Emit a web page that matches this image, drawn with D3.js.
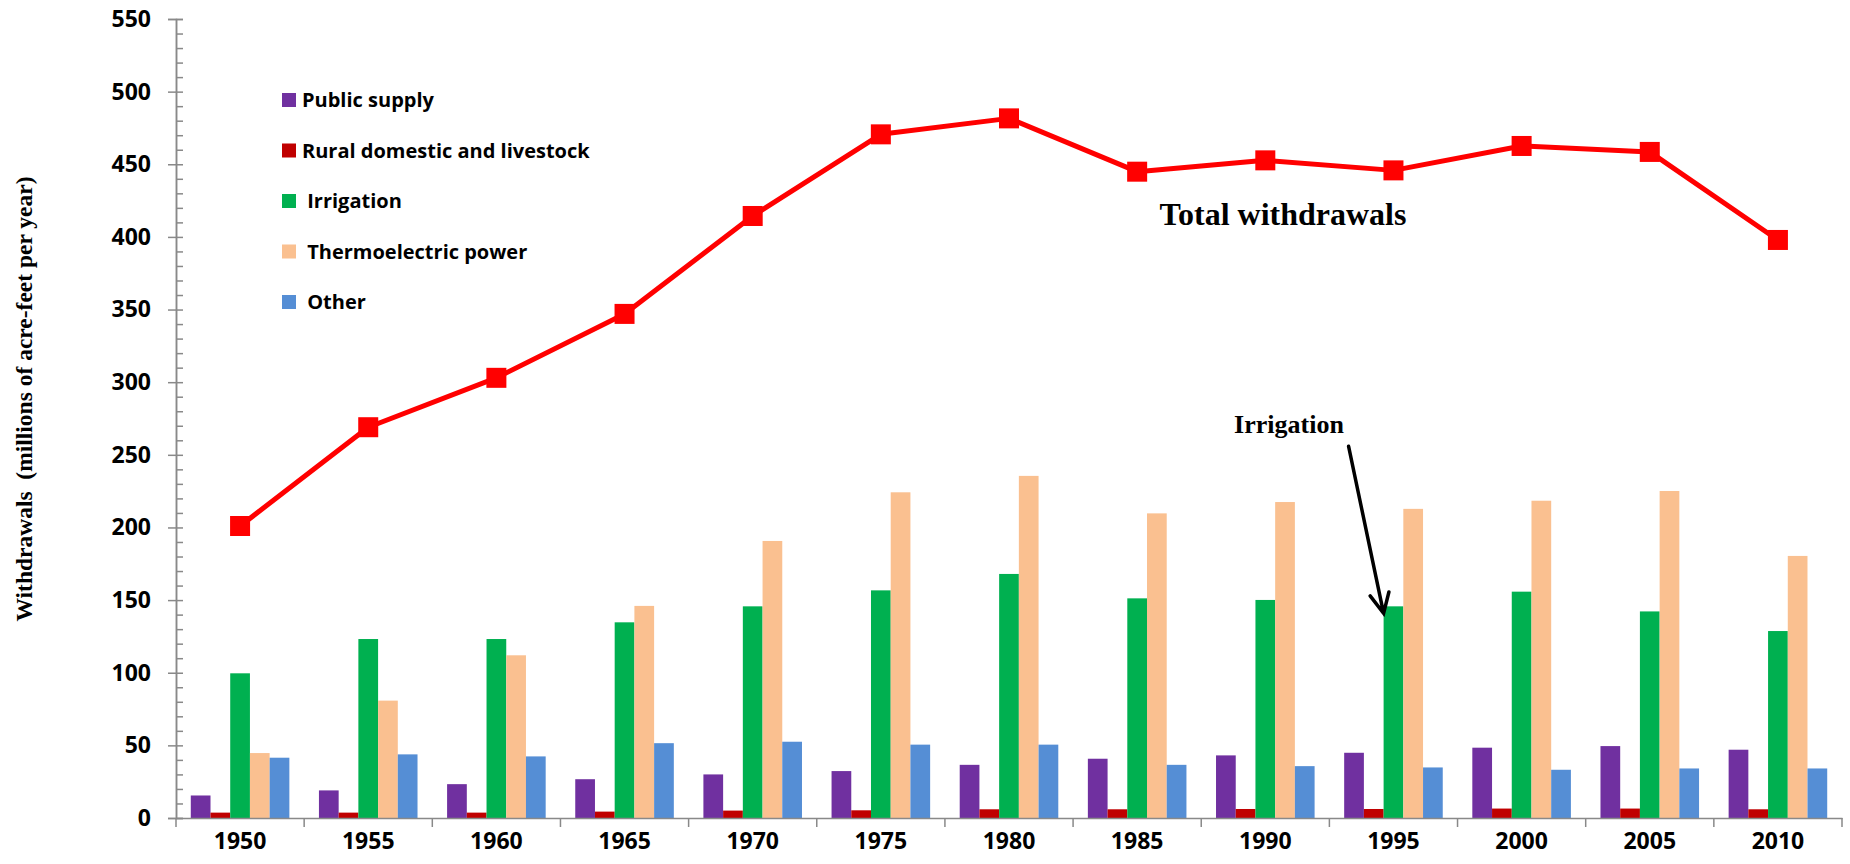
<!DOCTYPE html>
<html>
<head>
<meta charset="utf-8">
<script src="https://cdn.jsdelivr.net/npm/d3@7"></script>
<style>
  html, body { margin: 0; padding: 0; background: #fff; }
  svg { display: block; }
</style>
</head>
<body>
<svg id="chart" width="1850" height="864"></svg>
<script>
// ---- data ----
const years = [1950, 1955, 1960, 1965, 1970, 1975, 1980, 1985, 1990, 1995, 2000, 2005, 2010];
const seriesNames = ["Public supply", "Rural domestic and livestock", " Irrigation", " Thermoelectric power", " Other"];
const seriesColors = ["#7030A0", "#C00000", "#00B050", "#FAC090", "#558ED5"];
const publicSupply = [15.5, 19, 23.3, 26.7, 30, 32.3, 36.6, 40.8, 43.1, 44.9, 48.4, 49.5, 47];
const ruralDomestic = [3.7, 3.7, 3.7, 4.4, 5.1, 5.3, 6, 6, 6.2, 6.2, 6.5, 6.5, 6];
const irrigation = [99.6, 123.2, 123.2, 134.7, 145.7, 156.7, 168, 151.2, 150.1, 145.7, 155.8, 142.2, 128.7];
const thermoelectric = [44.7, 80.8, 112, 146, 190.7, 224.2, 235.5, 209.7, 217.5, 212.8, 218.4, 225.1, 180.4];
const other = [41.5, 43.8, 42.4, 51.5, 52.5, 50.5, 50.5, 36.6, 35.7, 34.8, 33.2, 34.1, 34.1];
const totalWithdrawals = [201, 269, 303, 347, 414.4, 470.6, 481.6, 444.9, 452.7, 445.8, 462.6, 458.5, 397.9];
const yTicks = [0, 50, 100, 150, 200, 250, 300, 350, 400, 450, 500, 550];
const yAxisTitle = "Withdrawals  (millions of acre-feet per year)";
const totalLabel = "Total withdrawals";
const arrowLabel = "Irrigation";

const seriesValues = [publicSupply, ruralDomestic, irrigation, thermoelectric, other];

// ---- layout ----
const svg = d3.select("#chart");
const plotLeft = 176, plotRight = 1842, plotTop = 19, plotBottom = 818;
const axisColor = "#898989";
const sansFont = "'Open Sans', 'Noto Sans', sans-serif";
const serifFont = "'Liberation Serif', 'DejaVu Serif', serif";

const x = d3.scaleBand().domain(years).range([plotLeft, plotRight]).paddingInner(0).paddingOuter(0);
const x1 = d3.scaleBand().domain(d3.range(seriesNames.length)).range([0, x.bandwidth()])
  .paddingInner(0).paddingOuter(0.75);
const y = d3.scaleLinear().domain([0, 550]).range([plotBottom, plotTop]);

// ---- bars ----
const groups = svg.append("g").selectAll("g").data(years).join("g")
  .attr("transform", d => `translate(${x(d)},0)`);
groups.selectAll("rect")
  .data((d, i) => seriesValues.map((vals, s) => ({ s, v: vals[i] })))
  .join("rect")
  .attr("x", d => x1(d.s))
  .attr("width", x1.bandwidth())
  .attr("y", d => y(d.v))
  .attr("height", d => y(0) - y(d.v))
  .attr("fill", d => seriesColors[d.s]);

// ---- y axis ----
const yAxisMajor = svg.append("g").attr("transform", `translate(${plotLeft},0)`)
  .call(d3.axisLeft(y).tickValues(yTicks).tickSize(8).tickPadding(17).tickFormat(d3.format("d")));
const yAxisMinor = svg.append("g").attr("transform", `translate(${plotLeft},0)`)
  .call(d3.axisRight(y).tickValues(d3.range(0, 551, 10)).tickSize(7).tickFormat(""));
[yAxisMajor, yAxisMinor].forEach(g => {
  g.selectAll("path").attr("stroke", axisColor).attr("stroke-width", 1.5);
  g.selectAll("line").attr("stroke", axisColor).attr("stroke-width", 1.5);
});
yAxisMajor.selectAll("text")
  .attr("font-family", sansFont).attr("font-weight", 700).attr("font-size", 23).attr("fill", "#000");

// ---- x axis ----
const xAxis = svg.append("g").attr("transform", `translate(0,${plotBottom})`)
  .call(d3.axisBottom(x).tickSize(0).tickPadding(15).tickSizeOuter(0));
xAxis.select("path").attr("stroke", axisColor).attr("stroke-width", 1.5);
xAxis.selectAll("text")
  .attr("font-family", sansFont).attr("font-weight", 700).attr("font-size", 23).attr("fill", "#000");
const boundaries = years.map(d => x(d)).concat([x.range()[1]]);
svg.append("g").selectAll("line").data(boundaries).join("line")
  .attr("x1", d => d).attr("x2", d => d)
  .attr("y1", plotBottom).attr("y2", plotBottom + 9)
  .attr("stroke", axisColor).attr("stroke-width", 1.5);

// ---- total line ----
const cx = d => x(d) + x.bandwidth() / 2;
const line = d3.line().x(d => cx(d[0])).y(d => y(d[1]));
const linePts = years.map((yr, i) => [yr, totalWithdrawals[i]]);
svg.append("path").datum(linePts)
  .attr("d", line).attr("fill", "none")
  .attr("stroke", "#FF0000").attr("stroke-width", 5).attr("stroke-linejoin", "round");
svg.append("g").selectAll("rect").data(linePts).join("rect")
  .attr("x", d => cx(d[0]) - 10).attr("y", d => y(d[1]) - 10)
  .attr("width", 20).attr("height", 20).attr("fill", "#FF0000");

// ---- legend ----
const legend = svg.append("g").selectAll("g").data(seriesNames).join("g")
  .attr("transform", (d, i) => `translate(282,${100 + i * 50.5})`);
legend.append("rect").attr("x", 0).attr("y", -7).attr("width", 14).attr("height", 14)
  .attr("fill", (d, i) => seriesColors[i]);
legend.append("text").attr("x", 20).attr("y", 7)
  .style("white-space", "pre")
  .attr("font-family", sansFont).attr("font-weight", 700).attr("font-size", 20).attr("fill", "#000")
  .text(d => d);

// ---- y axis title ----
svg.append("text")
  .attr("transform", "translate(32,399) rotate(-90)")
  .attr("text-anchor", "middle")
  .style("white-space", "pre")
  .attr("font-family", serifFont).attr("font-weight", 700).attr("font-size", 23.5).attr("fill", "#000")
  .text(yAxisTitle);

// ---- annotations ----
svg.append("text")
  .attr("x", 1283).attr("y", 225)
  .attr("text-anchor", "middle")
  .attr("font-family", serifFont).attr("font-weight", 700).attr("font-size", 32).attr("fill", "#000")
  .text(totalLabel);

const irrIdx = years.indexOf(1995);
const tipX = x(1995) + x1(2), tipY = y(irrigation[irrIdx]) + 7;
const startX = tipX - 35, startY = tipY - 167;
svg.append("text")
  .attr("x", 1289).attr("y", 433)
  .attr("text-anchor", "middle")
  .attr("font-family", serifFont).attr("font-weight", 700).attr("font-size", 26).attr("fill", "#000")
  .text(arrowLabel);
const ang = Math.atan2(tipY - startY, tipX - startX);
const headLen = 22, headAng = 0.45;
const p = d3.path();
p.moveTo(startX, startY); p.lineTo(tipX, tipY);
p.moveTo(tipX - headLen * Math.cos(ang - headAng), tipY - headLen * Math.sin(ang - headAng));
p.lineTo(tipX, tipY);
p.lineTo(tipX - headLen * Math.cos(ang + headAng), tipY - headLen * Math.sin(ang + headAng));
svg.append("path").attr("d", p.toString()).attr("fill", "none")
  .attr("stroke", "#000").attr("stroke-width", 3.5).attr("stroke-linecap", "round").attr("stroke-linejoin", "miter");
</script>
</body>
</html>
